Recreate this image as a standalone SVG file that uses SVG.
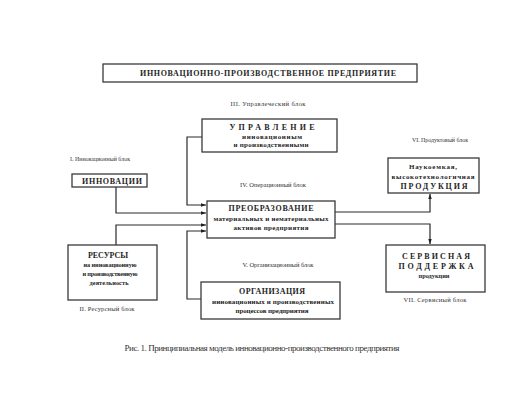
<svg xmlns="http://www.w3.org/2000/svg" width="529" height="413" viewBox="0 0 529 413">
<style>
.box{fill:#fff;stroke:#3a3a3a;stroke-width:1.3}
.t{font-family:"Liberation Serif","Times New Roman",serif;fill:#1e1e1e;text-anchor:middle}
.b{font-weight:bold}
.c{font-size:8px}
.s{font-size:7px}
.xs{font-size:6.3px}
.lbl{font-size:6.5px;fill:#333}
.lbs{font-size:5.9px}
.cap{font-size:9px;fill:#333}
.ln{fill:none;stroke:#2a2a2a;stroke-width:1.2}
</style>
<defs>
<marker id="ah" viewBox="0 0 10 10" refX="10" refY="5" markerWidth="5" markerHeight="5" orient="auto" markerUnits="userSpaceOnUse">
<path d="M0,1.5 L10,5 L0,8.5 Z" fill="#1e1e1e"/>
</marker>
</defs>
<rect width="529" height="413" fill="#fff"/>

<g id="title">
<rect class="box" x="103" y="64" width="314" height="18"/>
<text class="t b c" x="268" y="76" textLength="256" lengthAdjust="spacing">ИННОВАЦИОННО-ПРОИЗВОДСТВЕННОЕ ПРЕДПРИЯТИЕ</text>
</g>

<g id="connectors">
<polyline class="ln" points="202,137 187,137 187,205 206,205" marker-end="url(#ah)"/>
<polyline class="ln" points="116,187 116,213 206,213" marker-end="url(#ah)"/>
<polyline class="ln" points="116,246 116,225 206,225" marker-end="url(#ah)"/>
<polyline class="ln" points="201,299 187,299 187,231 206,231" marker-end="url(#ah)"/>
<polyline class="ln" points="335,212 430,212 430,194" marker-end="url(#ah)"/>
<polyline class="ln" points="335,224 430,224 430,244" marker-end="url(#ah)"/>
</g>

<g id="upravlenie">
<text class="t lbl" x="268" y="106" textLength="75" lengthAdjust="spacing">III. Управлеческий блок</text>
<rect class="box" x="202" y="119" width="135" height="33"/>
<text class="t b c" x="272" y="130" textLength="85" lengthAdjust="spacing">УПРАВЛЕНИЕ</text>
<text class="t b s" x="272" y="139" textLength="60" lengthAdjust="spacing">инновационным</text>
<text class="t b s" x="271" y="147" textLength="75" lengthAdjust="spacing">и производственными</text>
</g>

<g id="innovacii">
<text class="t lbl lbs" x="100" y="161" textLength="60" lengthAdjust="spacing">I. Инновационный блок</text>
<rect class="box" x="72" y="174" width="75" height="13"/>
<text class="t b c" x="112" y="183.5" textLength="60" lengthAdjust="spacing">ИННОВАЦИИ</text>
</g>

<g id="preobrazovanie">
<text class="t lbl" x="273" y="187" textLength="66" lengthAdjust="spacing">IV. Операционный блок</text>
<rect class="box" x="207" y="201" width="128" height="37"/>
<text class="t b c" x="271" y="211" textLength="85" lengthAdjust="spacing">ПРЕОБРАЗОВАНИЕ</text>
<text class="t b s" x="271" y="221" textLength="115" lengthAdjust="spacing">материальных и нематериальных</text>
<text class="t b s" x="271" y="230" textLength="75" lengthAdjust="spacing">активов предприятия</text>
</g>

<g id="produkciya">
<text class="t lbl lbs" x="440" y="142" textLength="56" lengthAdjust="spacing">VI. Продуктовый блок</text>
<rect class="box" x="388" y="158" width="91" height="35"/>
<text class="t b s" x="433" y="169" textLength="48" lengthAdjust="spacing">Наукоемкая,</text>
<text class="t b s" x="433" y="179" textLength="83" lengthAdjust="spacing">высокотехнологичная</text>
<text class="t b c" x="434" y="189" textLength="67" lengthAdjust="spacing">ПРОДУКЦИЯ</text>
</g>

<g id="resursy">
<rect class="box" x="68" y="245" width="89" height="55"/>
<text class="t b c" x="108" y="258" textLength="40" lengthAdjust="spacing">РЕСУРСЫ</text>
<text class="t b xs" x="110" y="267" textLength="53" lengthAdjust="spacing">на инновационную</text>
<text class="t b xs" x="110" y="276" textLength="55" lengthAdjust="spacing">и производственную</text>
<text class="t b xs" x="109" y="285" textLength="39" lengthAdjust="spacing">деятельность</text>
<text class="t lbl" x="107" y="311" textLength="55" lengthAdjust="spacing">II. Ресурсный блок</text>
</g>

<g id="organizaciya">
<text class="t lbl" x="278" y="267" textLength="71" lengthAdjust="spacing">V. Организационный блок</text>
<rect class="box" x="201" y="282" width="139" height="37"/>
<text class="t b c" x="272" y="294" textLength="66" lengthAdjust="spacing">ОРГАНИЗАЦИЯ</text>
<text class="t b s" x="273" y="304" textLength="122" lengthAdjust="spacing">инновационных и производственных</text>
<text class="t b s" x="272" y="313" textLength="73" lengthAdjust="spacing">процессов предприятия</text>
</g>

<g id="servis">
<rect class="box" x="386" y="245" width="99" height="47"/>
<text class="t b c" x="436" y="259" textLength="68" lengthAdjust="spacing">СЕРВИСНАЯ</text>
<text class="t b c" x="436" y="269" textLength="75" lengthAdjust="spacing">ПОДДЕРЖКА</text>
<text class="t b xs" x="434" y="278" textLength="31" lengthAdjust="spacing">продукции</text>
<text class="t lbl" x="435" y="302" textLength="63" lengthAdjust="spacing">VII. Сервисный блок</text>
</g>

<text class="t cap" x="262" y="351" textLength="275" lengthAdjust="spacing">Рис. 1. Принципиальная модель инновационно-производственного предприятия</text>
</svg>
